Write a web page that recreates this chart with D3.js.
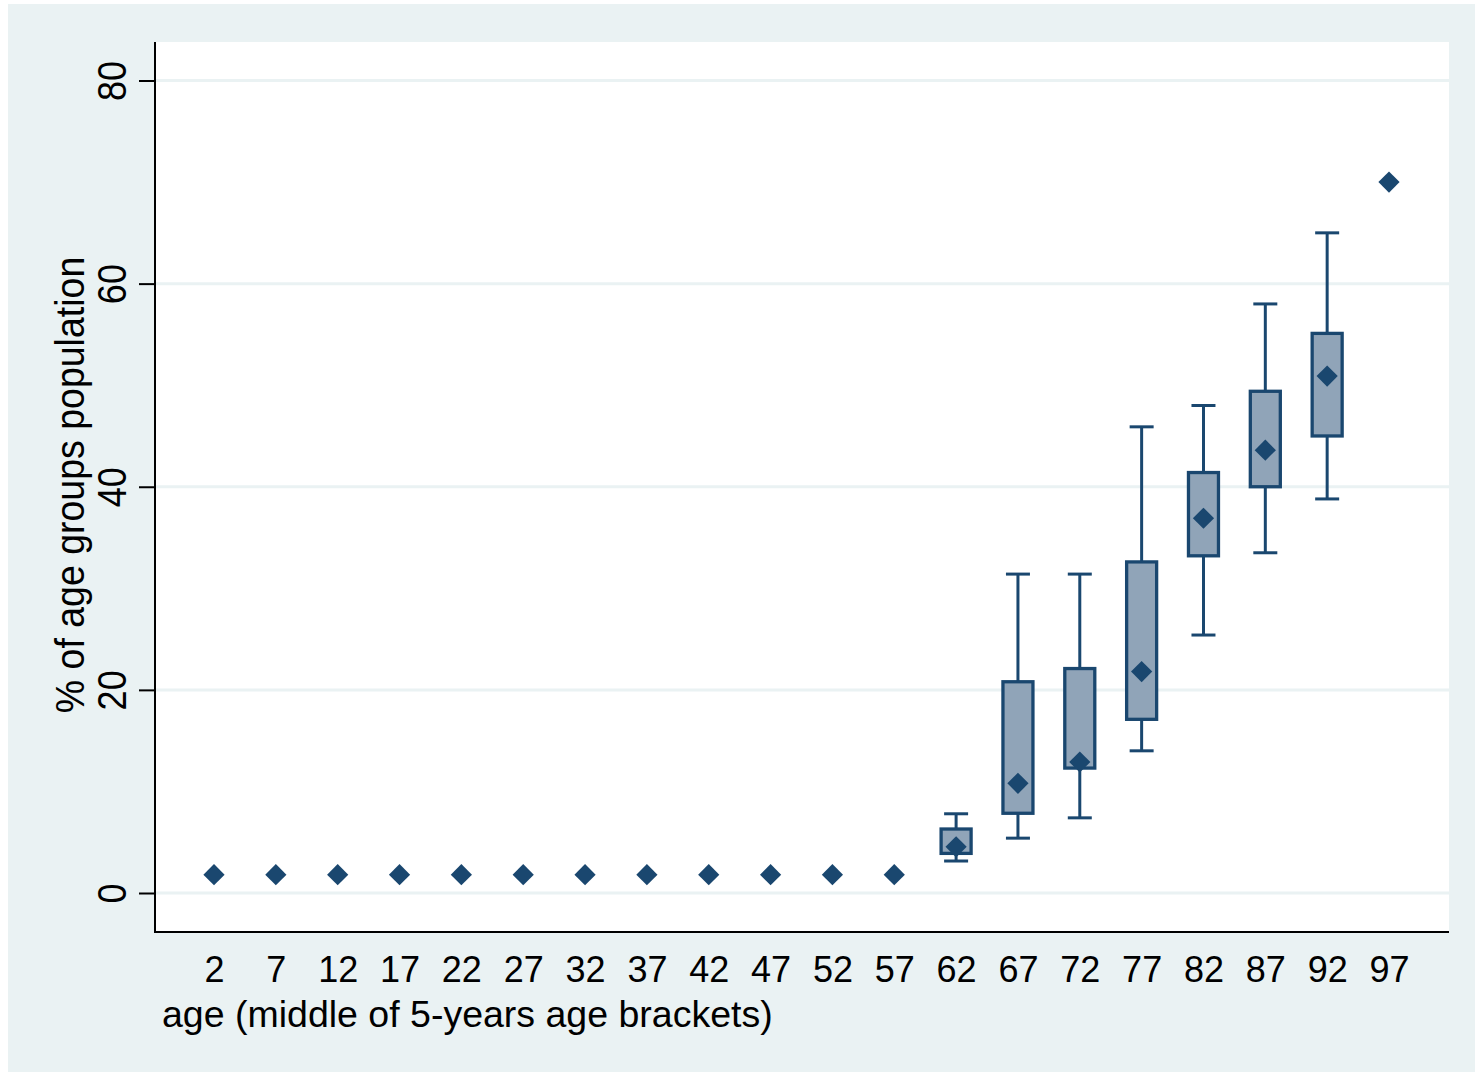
<!DOCTYPE html>
<html><head><meta charset="utf-8">
<script src="https://cdn.jsdelivr.net/npm/d3@7"></script>
<style>body{margin:0;background:#fff;}svg{display:block;font-family:"Liberation Sans",Arial,sans-serif;}</style>
</head><body><svg id="c" width="1483" height="1076"></svg>
<script>
const categories = ["2","7","12","17","22","27","32","37","42","47","52","57","62","67","72","77","82","87","92","97"];
// point-only groups (single value)
const pointCats = ["2","7","12","17","22","27","32","37","42","47","52","57","97"];
const pointVals = [1.8,1.8,1.8,1.8,1.8,1.8,1.8,1.8,1.8,1.8,1.8,1.8,70];
// box groups
const boxCats = ["62","67","72","77","82","87","92"];
const whiskLo = [3.15,5.4,7.4,14.0,25.4,33.5,38.8];
const q1 = [3.9,7.85,12.3,17.1,33.2,40.0,45.0];
const medians = [4.55,10.8,12.9,21.8,36.9,43.6,50.9];
const q3 = [6.3,20.8,22.1,32.6,41.4,49.4,55.1];
const whiskHi = [7.8,31.4,31.4,45.9,48.0,58.0,65.0];
const yTicks = [0,20,40,60,80];
const xTitle = "age (middle of 5-years age brackets)";
const yTitle = "% of age groups population";

const navy = "#1a476f", boxFill = "#90a4b8", bg = "#eaf2f3";
const svg = d3.select("#c");
const L = 155, R = 1449, T = 42, B = 932;

svg.append("rect").attr("x",8).attr("y",4).attr("width",1467).attr("height",1068).attr("fill",bg);
svg.append("rect").attr("x",L).attr("y",T).attr("width",R-L).attr("height",B-T).attr("fill","#fff");

const x = d3.scalePoint().domain(categories).range([214,1389]);
const y = d3.scaleLinear().domain([0,80]).range([893,80.5]);

// gridlines
svg.append("g").selectAll("line").data(yTicks).join("line")
  .attr("x1",L).attr("x2",R).attr("y1",d=>y(d)).attr("y2",d=>y(d))
  .attr("stroke",bg).attr("stroke-width",3);

// y axis
const ya = svg.append("g").attr("transform",`translate(${L},0)`)
  .call(d3.axisLeft(y).tickValues(yTicks).tickSize(16).tickFormat(d3.format("d")));
ya.select(".domain").remove();
ya.selectAll(".tick line").attr("stroke","#000").attr("stroke-width",2);
ya.selectAll(".tick text").attr("font-size",36).attr("fill","#000")
  .attr("text-anchor","middle").attr("x",null).attr("dy",null)
  .attr("transform","translate(-29,0) rotate(-90) scale(1,1.15)");
svg.append("line").attr("x1",L).attr("x2",L).attr("y1",T).attr("y2",B+1).attr("stroke","#000").attr("stroke-width",2);

// x axis
const xa = svg.append("g").attr("transform",`translate(0,${B})`)
  .call(d3.axisBottom(x).tickSize(0));
xa.select(".domain").remove();
xa.selectAll(".tick text").attr("font-size",36).attr("fill","#000").attr("y",50).attr("dy",null);
svg.append("line").attr("x1",L-1).attr("x2",R).attr("y1",B).attr("y2",B).attr("stroke","#000").attr("stroke-width",2);

// titles
svg.append("text").attr("x",162).attr("y",1027).attr("font-size",37.5).attr("fill","#000").text(xTitle);
svg.append("text").attr("transform","translate(84,485) rotate(-90) scale(1,1.08)")
  .attr("text-anchor","middle").attr("font-size",37.5).attr("fill","#000").text(yTitle);

// boxes
const boxes = boxCats.map((c,i)=>({c,lo:whiskLo[i],q1:q1[i],med:medians[i],q3:q3[i],hi:whiskHi[i]}));
const bw = 30, cw = 24;
const g = svg.append("g");
boxes.forEach(b=>{
  const cx = x(b.c);
  g.append("line").attr("x1",cx).attr("x2",cx).attr("y1",y(b.hi)).attr("y2",y(b.q3)).attr("stroke",navy).attr("stroke-width",3);
  g.append("line").attr("x1",cx).attr("x2",cx).attr("y1",y(b.q1)).attr("y2",y(b.lo)).attr("stroke",navy).attr("stroke-width",3);
  g.append("line").attr("x1",cx-cw/2).attr("x2",cx+cw/2).attr("y1",y(b.hi)).attr("y2",y(b.hi)).attr("stroke",navy).attr("stroke-width",3);
  g.append("line").attr("x1",cx-cw/2).attr("x2",cx+cw/2).attr("y1",y(b.lo)).attr("y2",y(b.lo)).attr("stroke",navy).attr("stroke-width",3);
  g.append("rect").attr("x",cx-bw/2).attr("width",bw).attr("y",y(b.q3)).attr("height",y(b.q1)-y(b.q3))
    .attr("fill",boxFill).attr("stroke",navy).attr("stroke-width",3.3);
});

// diamonds
const diamond = d3.symbol().type(d3.symbolSquare).size(225);
const pts = pointCats.map((c,i)=>({c,v:pointVals[i]})).concat(boxes.map(b=>({c:b.c,v:b.med})));
svg.append("g").selectAll("path").data(pts).join("path")
  .attr("d",diamond).attr("fill",navy)
  .attr("transform",d=>`translate(${x(d.c)},${y(d.v)}) rotate(45)`);
</script></body></html>
